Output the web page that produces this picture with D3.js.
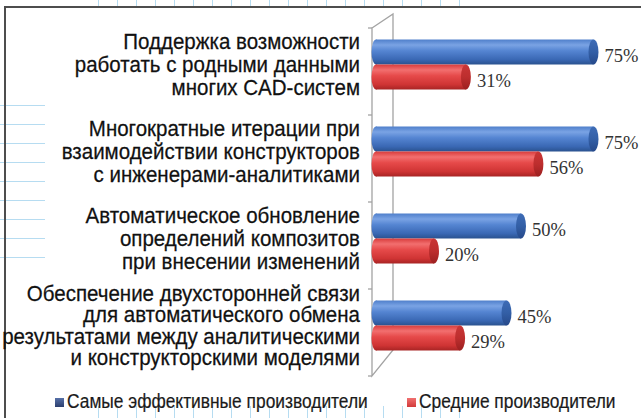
<!DOCTYPE html>
<html><head><meta charset="utf-8">
<script src="https://cdn.jsdelivr.net/npm/d3@7"></script>
<style>body{margin:0;background:#fff}svg{display:block}</style></head><body>
<script>
const categories = [
  ["Поддержка возможности", "работать с родными данными", "многих CAD-систем"],
  ["Многократные итерации при", "взаимодействии конструкторов", "с инженерами-аналитиками"],
  ["Автоматическое обновление", "определений композитов", "при внесении изменений"],
  ["Обеспечение двухсторонней связи", "для автоматического обмена", "результатами между аналитическими", "и конструкторскими моделями"]
];
const seriesNames = ["Самые эффективные производители", "Средние производители"];
const topValues = [75, 75, 50, 45];
const avgValues = [31, 56, 20, 29];

const W = 641, H = 418;
const svg = d3.select("body").append("svg").attr("width", W).attr("height", H);
const defs = svg.append("defs");
function grad(id, stops) {
  const g = defs.append("linearGradient").attr("id", id).attr("x1", 0).attr("y1", 0).attr("x2", 0).attr("y2", 1);
  stops.forEach(s => g.append("stop").attr("offset", s[0]).attr("stop-color", s[1]));
}
grad("gBlue", [[0, "#4f7fcb"], [0.22, "#7aa3e4"], [0.45, "#5585d2"], [0.8, "#3a68b4"], [1, "#2a528f"]]);
grad("gRed", [[0, "#d83c3c"], [0.22, "#f26f6f"], [0.45, "#e64a4a"], [0.8, "#cf3434"], [1, "#a82424"]]);
grad("gBlueCap", [[0, "#3e6cb6"], [0.5, "#335fa6"], [1, "#26498a"]]);
grad("gRedCap", [[0, "#c93636"], [0.5, "#bd2e2e"], [1, "#9c2020"]]);
grad("gLegBlue", [[0, "#5670a8"], [1, "#2c3f6e"]]);
grad("gLegRed", [[0, "#f07070"], [1, "#d23a3a"]]);

// notebook-paper decoration
const gridColor = "#b6dcf1";
const deco = svg.append("g").attr("stroke", gridColor).attr("stroke-width", 1);
d3.range(98, 462, 19).forEach(gx => {
  deco.append("line").attr("x1", gx + 0.5).attr("x2", gx + 0.5).attr("y1", 0).attr("y2", 6);
  deco.append("line").attr("x1", gx + 0.5).attr("x2", gx + 0.5).attr("y1", 406).attr("y2", H);
});
d3.range(105, 260, 19).forEach(gy => {
  deco.append("line").attr("x1", 0).attr("x2", 45).attr("y1", gy + 0.5).attr("y2", gy + 0.5);
});

// frame
svg.append("path").attr("d", `M5,${H} V7 H${W}`).attr("fill", "none").attr("stroke", "#4d4d4d").attr("stroke-width", 2);

// scales
const y = d3.scaleBand().domain(d3.range(categories.length)).range([28, 376]).padding(0);
const x = d3.scaleLinear().domain([0, 100]).range([376, 666]);
const barH = 25, barOff = 11.5;

// 3D walls
const wall = svg.append("g").attr("stroke", "#a3a3a3").attr("stroke-width", 1.3).attr("fill", "none");
const yTop = y.range()[0], yBot = y.range()[1];
wall.append("path").attr("d", `M372,${yTop} L393,${yTop - 14} V${yBot - 26} L372,${yBot} Z`);
y.domain().concat([null]).forEach(d => {
  const ty = d === null ? yBot : y(d);
  wall.append("line").attr("x1", 368).attr("x2", 372).attr("y1", ty).attr("y2", ty);
});

// bars
const series = [
  { values: topValues, fill: "url(#gBlue)", cap: "url(#gBlueCap)" },
  { values: avgValues, fill: "url(#gRed)", cap: "url(#gRedCap)" }
];
const barsG = svg.append("g");
series.forEach((s, si) => {
  s.values.forEach((v, i) => {
    const by = y(i) + barOff + si * barH;
    const g = barsG.append("g");
    g.append("ellipse").attr("cx", x(0)).attr("cy", by + barH / 2).attr("rx", 4.5).attr("ry", barH / 2).attr("fill", s.fill);
    g.append("rect").attr("x", x(0)).attr("y", by).attr("width", x(v) - x(0)).attr("height", barH).attr("fill", s.fill);
    g.append("ellipse").attr("cx", x(v)).attr("cy", by + barH / 2).attr("rx", 5).attr("ry", barH / 2).attr("fill", s.cap);
    g.append("text").attr("x", x(v) + 11).attr("y", by + barH / 2 + 10)
      .attr("font-family", "'Liberation Serif','Times New Roman',serif").attr("font-size", 18.5).attr("fill", "#333")
      .text(v + "%");
  });
});

// category labels
const labG = svg.append("g").attr("font-family", "'Liberation Sans',Arial,sans-serif").attr("font-size", 21.5)
  .attr("fill", "#111").attr("stroke", "#111").attr("stroke-width", 0.25);
const probe = labG.append("text").text("результатами между аналитическими");
const sx = 358 / probe.node().getComputedTextLength();
probe.remove();
categories.forEach((lines, i) => {
  const n = lines.length, lh = n === 4 ? 21.5 : 23;
  const cy = y(i) + y.bandwidth() / 2 + 0.5;
  lines.forEach((ln, j) => {
    labG.append("text").attr("text-anchor", "end")
      .attr("transform", `translate(360,${cy + (j - (n - 1) / 2) * lh}) scale(${sx},1)`)
      .text(ln);
  });
});

// legend
const legG = svg.append("g").attr("font-family", "'Liberation Sans',Arial,sans-serif").attr("font-size", 19.5)
  .attr("fill", "#1a1a1a").attr("stroke", "#1a1a1a").attr("stroke-width", 0.2);
const probe2 = legG.append("text").text(seriesNames[0]);
const sx2 = 301 / probe2.node().getComputedTextLength();
probe2.remove();
const legendItems = [{ x: 55, fill: "url(#gLegBlue)" }, { x: 407, fill: "url(#gLegRed)" }];
legendItems.forEach((it, k) => {
  legG.append("rect").attr("x", it.x).attr("y", 398).attr("width", 9).attr("height", 9).attr("fill", it.fill).attr("stroke", "none");
  legG.append("text").attr("transform", `translate(${it.x + 12},408) scale(${sx2},1)`).text(seriesNames[k]);
});
</script>
</body></html>
